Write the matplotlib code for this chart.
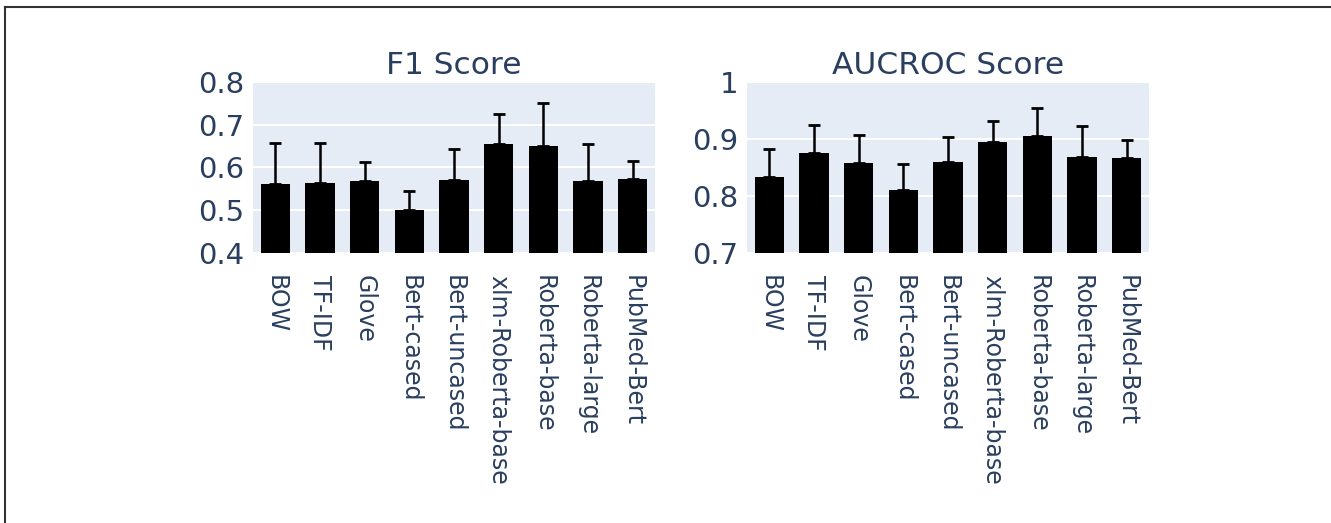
import matplotlib.pyplot as plt
from matplotlib.lines import Line2D

models = ['BOW', 'TF-IDF', 'Glove', 'Bert-cased', 'Bert-uncased',
          'xlm-Roberta-base', 'Roberta-base', 'Roberta-large', 'PubMed-Bert']

f1 = [0.561, 0.564, 0.568, 0.500, 0.571, 0.655, 0.650, 0.568, 0.574]
f1_err = [0.097, 0.094, 0.046, 0.046, 0.073, 0.069, 0.101, 0.087, 0.042]

auc = [0.833, 0.875, 0.858, 0.811, 0.860, 0.894, 0.906, 0.869, 0.867]
auc_err = [0.049, 0.050, 0.049, 0.046, 0.043, 0.038, 0.048, 0.053, 0.032]

f1_ticks = [0.4, 0.5, 0.6, 0.7, 0.8]
f1_ticklabels = ['0.4', '0.5', '0.6', '0.7', '0.8']
auc_ticks = [0.7, 0.8, 0.9, 1.0]
auc_ticklabels = ['0.7', '0.8', '0.9', '1']

txt = '#2a3f5f'
bg = '#e5ecf6'

fig = plt.figure(figsize=(13.31, 5.23), dpi=100)
W, H = 1331, 523


def panel(left, vals, errs, ticks, ticklabels, title):
    ax = fig.add_axes([left / W, 1 - 253 / H, 402 / W, 171 / H])
    x = range(len(models))
    ax.bar(x, vals, width=0.65, color='black', zorder=2)
    ax.errorbar(x, vals, yerr=[[0] * len(errs), errs], fmt='none',
                ecolor='black', elinewidth=1.8, capsize=4.5, capthick=2, zorder=3)
    ax.set_facecolor(bg)
    ax.set_ylim(ticks[0], ticks[-1])
    ax.set_xlim(-0.5, len(models) - 0.5)
    ax.set_yticks(ticks)
    ax.set_yticklabels(ticklabels, fontsize=21, color=txt)
    ax.set_xticks(list(x))
    ax.set_xticklabels(models, rotation=-90, fontsize=17, color=txt,
                       ha='center', va='top')
    ax.tick_params(axis='both', length=0)
    ax.tick_params(axis='y', pad=6)
    ax.tick_params(axis='x', pad=16)
    ax.yaxis.grid(True, color='white', linewidth=1.5)
    ax.set_axisbelow(True)
    for s in ax.spines.values():
        s.set_visible(False)
    ax.set_title(title, fontsize=22.5, color=txt, pad=6)
    return ax


panel(253, f1, f1_err, f1_ticks, f1_ticklabels, 'F1 Score')
panel(747, auc, auc_err, auc_ticks, auc_ticklabels, 'AUCROC Score')

# thin frame at top and left like the source image
fig.add_artist(Line2D([5 / W, 1], [1 - 7 / H, 1 - 7 / H], color='#333333', linewidth=1.5))
fig.add_artist(Line2D([5 / W, 5 / W], [0, 1 - 7 / H], color='#333333', linewidth=1.5))

fig.savefig('out.png', dpi=100)
